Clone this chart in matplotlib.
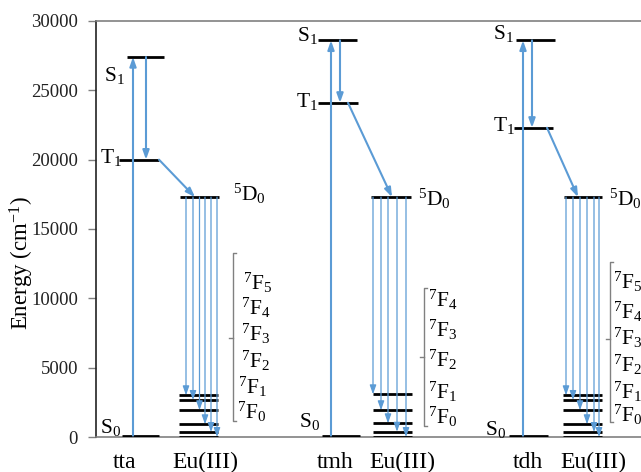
import matplotlib
matplotlib.use('Agg')
import matplotlib.pyplot as plt

plt.rcParams['font.family'] = ['Liberation Serif', 'DejaVu Serif']
plt.rcParams['mathtext.fontset'] = 'custom'
plt.rcParams['mathtext.rm'] = 'Liberation Serif'
plt.rcParams['mathtext.it'] = 'Liberation Serif:italic'
plt.rcParams['mathtext.bf'] = 'Liberation Serif:bold'

# ---------------- data ----------------
ligands = ['tta', 'tmh', 'tdh']
s1_energy = [27400, 28600, 28600]
t1_energy = [20000, 24100, 22300]
d0_energy = [17300, 17300, 17300]
s0_energy = [100, 100, 100]
eu_f_tta = [0, 360, 920, 1930, 2670, 3010]
eu_f_tmh = [0, 380, 990, 1930, 3080]
eu_f_tdh = [0, 360, 920, 1930, 2670, 3010]
f_labels_6 = ['7F5', '7F4', '7F3', '7F2', '7F1', '7F0']
f_labels_5 = ['7F4', '7F3', '7F2', '7F1', '7F0']
eu_label = 'Eu(III)'
yticks = [0, 5000, 10000, 15000, 20000, 25000, 30000]
ylabel = 'Energy (cm$^{-1}$)'

eu_levels = [eu_f_tta, eu_f_tmh, eu_f_tdh]
f_labels = [f_labels_6, f_labels_5, f_labels_6]

# ---------------- layout ----------------
W, H = 641, 472
Y0, Y1 = 437, 21   # pixel rows of 0 and 30000


def ey(py):
    return (Y0 - py) / (Y0 - Y1) * 30000


BLUE = '#5B9BD5'
GRAY = '#808080'

layout = [
    dict(s1=(127, 164), t1=(119, 159), s0=(122, 159), up=133, down=146,
         diag=(159, 195), d0=(180, 219), eu=(179, 218),
         em=[217, 211, 205, 199.5, 193, 186],
         br=(233, 253, 421, 338), flx=[243, 241, 241, 241, 238.5, 237],
         fly=[283, 308, 334, 361, 387, 412],
         s1lab=(114, 76), t1lab=(111, 158), s0lab=(111, 428), d0lab=(233, 194),
         lig=(125, 462), eul=(205, 462)),
    dict(s1=(318, 357), t1=(318, 358), s0=(322, 360), up=331, down=340,
         diag=(348, 392), d0=(371, 411), eu=(373, 412),
         em=[406, 397, 388, 381, 373],
         br=(424, 288, 426, 357), flx=[428, 428, 428, 428, 428],
         fly=[300, 330, 360, 392, 417],
         s1lab=(307, 36), t1lab=(307, 101), s0lab=(310, 422), d0lab=(418, 199),
         lig=(335, 462), eul=(402, 462)),
    dict(s1=(516, 555), t1=(514, 553), s0=(509, 548), up=523, down=532,
         diag=(547, 578), d0=(564, 602), eu=(563, 602),
         em=[599, 594, 587, 580, 573, 566],
         br=(610, 262, 422, 339), flx=[613, 613, 613, 613, 613, 613],
         fly=[282, 312, 338, 365, 392, 415],
         s1lab=(503, 34), t1lab=(504, 126), s0lab=(496, 429), d0lab=(609, 199),
         lig=(528, 462), eul=(593, 462)),
]

fig = plt.figure(figsize=(W / 100, H / 100), dpi=100)
ax = fig.add_axes([96 / W, 1 - Y0 / H, 1 - 96 / W, (Y0 - Y1) / H])
ax.set_xlim(96, 641)
ax.set_ylim(0, 30000)
ax.set_yticks(yticks)
ax.set_xticks([])
ax.tick_params(axis='y', direction='out', length=6, width=1, color=GRAY,
               labelsize=13.5, pad=7, labelcolor='#222222')
ax.spines['right'].set_visible(False)
ax.spines['left'].set_color('#222222')
ax.spines['top'].set_color(GRAY)
ax.spines['bottom'].set_color(GRAY)
for s in ['left', 'top', 'bottom']:
    ax.spines[s].set_linewidth(1.2)
ax.set_ylabel(ylabel, fontsize=16.5)
ax.yaxis.set_label_coords(-(96 - 22) / (W - 96), (Y0 - 263) / (Y0 - Y1))
ax.yaxis.label.set_va('center')


def arrow(x0, y0, x1, y1, lw=1.5, color=BLUE):
    ax.annotate('', xy=(x1, y1), xytext=(x0, y0),
                arrowprops=dict(arrowstyle='-|>,head_length=0.45,head_width=0.16',
                                mutation_scale=12, lw=lw, color=color,
                                shrinkA=0, shrinkB=0), annotation_clip=False)


LVL = dict(color='black', lw=2, solid_capstyle='butt', zorder=3)
TXT = dict(fontsize=15.5, color='black')
CAT = dict(fontsize=17, color='black')

for i, lig in enumerate(ligands):
    L = layout[i]
    s1, t1, d0, s0 = s1_energy[i], t1_energy[i], d0_energy[i], s0_energy[i]
    # levels
    ax.plot(L['s1'], [s1, s1], **LVL)
    ax.plot(L['t1'], [t1, t1], **LVL)
    ax.plot(L['s0'], [s0, s0], **LVL)
    ax.plot(L['d0'], [d0, d0], **LVL)
    for e in eu_levels[i]:
        ax.plot(L['eu'], [e, e], **LVL)
    # arrows
    arrow(L['up'], s0, L['up'], s1)
    arrow(L['down'], s1, L['down'], t1)
    arrow(L['diag'][0], t1, L['diag'][1], d0)
    for x, e in zip(L['em'], eu_levels[i]):
        arrow(x, d0, x, e, lw=0.9)
    # labels
    ax.text(L['s1lab'][0], ey(L['s1lab'][1]), 'S$_1$', ha='center', va='center', **TXT)
    ax.text(L['t1lab'][0], ey(L['t1lab'][1]), 'T$_1$', ha='center', va='center', **TXT)
    ax.text(L['s0lab'][0], ey(L['s0lab'][1]), 'S$_0$', ha='center', va='center', **TXT)
    ax.text(L['d0lab'][0], ey(L['d0lab'][1]), '$^5$D$_0$', ha='left', va='center',
            clip_on=False, **TXT)
    # bracket
    bx, bt, bb, bm = L['br']
    ax.plot([bx + 3, bx, bx, bx + 3], [ey(bt), ey(bt), ey(bb), ey(bb)],
            color=GRAY, lw=1, clip_on=False)
    ax.plot([bx, bx - 4], [ey(bm), ey(bm)], color=GRAY, lw=1, clip_on=False)
    for lab, x, y in zip(f_labels[i], L['flx'], L['fly']):
        ax.text(x, ey(y), '$^{%s}$%s$_{%s}$' % (lab[0], lab[1], lab[2]),
                ha='left', va='center', clip_on=False, **TXT)
    # category labels
    ax.text(L['lig'][0], ey(L['lig'][1]), lig, ha='center', va='center',
            clip_on=False, **CAT)
    ax.text(L['eul'][0], ey(L['eul'][1]), eu_label, ha='center', va='center',
            clip_on=False, **CAT)

fig.savefig('out.png', dpi=100)
